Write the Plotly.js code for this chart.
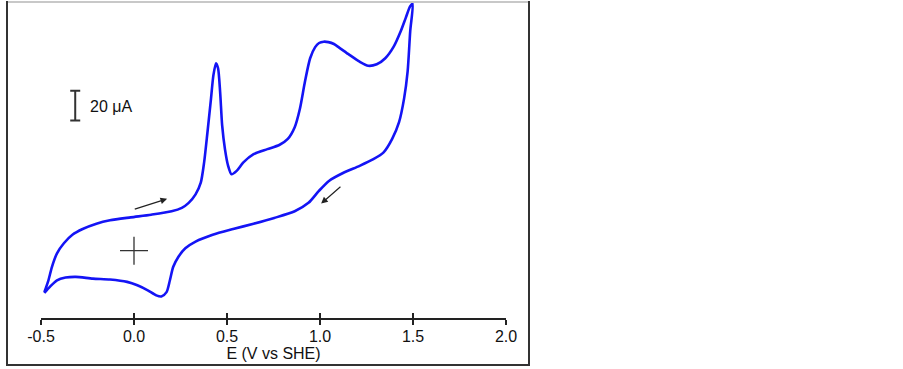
<!DOCTYPE html>
<html>
<head>
<meta charset="utf-8">
<script src="https://cdn.plot.ly/plotly-3.0.1.min.js"></script>
<style>html,body{margin:0;padding:0;background:#fff;}#chart{width:903px;height:369px;}</style>
</head>
<body>
<div id="chart"></div>
<script>
// Forward (anodic) scan: potential (V vs SHE) and current (µA, relative)
var forwardE = [-0.482,-0.460,-0.441,-0.414,-0.377,-0.331,-0.276,-0.202,-0.129,-0.018,0.092,0.202,0.257,0.294,0.331,0.359,0.377,0.395,0.414,0.427,0.441,0.452,0.463,0.474,0.489,0.506,0.524,0.552,0.588,0.643,0.717,0.781,0.827,0.864,0.892,0.919,0.947,0.974,0.995,1.020,1.045,1.075,1.103,1.158,1.213,1.259,1.305,1.351,1.397,1.434,1.461,1.485,1.498];
var forwardI = [-28.0,-20.0,-10.9,-1.8,5.0,10.7,14.6,18.2,20.5,22.5,24.3,26.6,28.9,32.3,38.0,45.9,59.6,80.0,102.7,118.6,126.6,123.2,107.3,84.6,68.6,57.3,51.6,53.9,59.6,65.2,68.6,71.4,75.5,83.4,95.9,114.1,130.0,137.5,140.3,141.2,140.9,139.6,137.2,132.3,127.7,124.9,125.9,130.0,138.0,148.2,157.3,165.2,166.8];
// Reverse (cathodic) scan
var reverseE = [1.498,1.485,1.471,1.452,1.425,1.388,1.342,1.287,1.213,1.121,1.048,0.993,0.938,0.864,0.754,0.643,0.533,0.423,0.331,0.276,0.239,0.211,0.193,0.175,0.147,0.120,0.074,0.018,-0.037,-0.129,-0.221,-0.313,-0.368,-0.414,-0.450,-0.482];
var reverseI = [166.8,148.2,120.9,102.7,86.8,75.5,66.4,61.8,57.3,52.3,47.1,40.2,32.3,26.6,22.1,18.2,14.6,10.7,6.1,1.6,-4.1,-10.9,-20.0,-28.0,-30.9,-30.2,-26.8,-23.4,-21.1,-19.5,-18.9,-17.7,-18.2,-20.0,-24.1,-28.6];
var tickVals = [-0.5,0.0,0.5,1.0,1.5,2.0];
var tickText = ['-0.5','0.0','0.5','1.0','1.5','2.0'];
// Scale bar (20 µA) and origin cross
var scaleBarE = [-0.316], scaleBarI = [98.0], scaleBarHalf = [10];
var scaleLabel = '20 μA', scaleLabelE = -0.250, scaleLabelI = 97.7;
var originE = [0.0], originI = [0.0];
// Scan direction arrows: [headE, headI, tailE, tailI]
var arrowFwd = [0.178, 35.0, -0.004, 27.7];
var arrowRev = [1.006, 31.8, 1.118, 44.1];

var cvE = forwardE.concat(reverseE.slice(1));
var cvI = forwardI.concat(reverseI.slice(1));

var traces = [
  {x: cvE, y: cvI, type: 'scatter', mode: 'lines', line: {color: 'rgb(20,20,245)', width: 2.6, shape: 'spline', smoothing: 0.7}, hoverinfo: 'skip'},
  {x: originE, y: originI, type: 'scatter', mode: 'markers', marker: {symbol: 'cross-thin-open', size: 20, color: '#333', line: {color: '#333', width: 1.3}}, hoverinfo: 'skip'},
  {x: scaleBarE, y: scaleBarI, xaxis: 'x2', type: 'scatter', mode: 'markers', marker: {size: 1, color: 'rgba(0,0,0,0)'},
   error_y: {type: 'data', array: scaleBarHalf, visible: true, color: '#333', thickness: 2, width: 5}, hoverinfo: 'skip'}
];

function arrow(a) {
  return {x: a[0], y: a[1], ax: a[2], ay: a[3], xref: 'x', yref: 'y', axref: 'x', ayref: 'y', text: '', showarrow: true,
    arrowhead: 2, arrowsize: 1.1, arrowwidth: 1.2, arrowcolor: '#222'};
}

var L = 41, R = 506, T = 2, B = 318, W = 903, H = 369;
function px(p) { return (p - L) / (R - L); }
function py(p) { return (B - p) / (B - T); }

var layout = {
  width: W, height: H,
  margin: {l: L, r: W - R, t: T, b: H - B, pad: 0},
  paper_bgcolor: '#fff', plot_bgcolor: 'rgba(0,0,0,0)',
  showlegend: false,
  font: {family: 'Liberation Sans, Arial, sans-serif', size: 16, color: '#111'},
  xaxis: {range: [-0.5, 2.0], tickvals: tickVals, ticktext: tickText, ticks: 'outside', ticklen: 5, tickwidth: 2, tickcolor: '#222',
    ticklabelstandoff: -2,
    showline: true, linecolor: '#222', linewidth: 2, showgrid: false, zeroline: false, fixedrange: true,
    tickfont: {size: 16, color: '#111'}, title: {text: 'E (V vs SHE)', font: {size: 16, color: '#111'}, standoff: 3}},
  xaxis2: {matches: 'x', overlaying: 'x', anchor: 'y', side: 'bottom', tickvals: tickVals, ticks: 'inside', ticklen: 5, tickwidth: 2, tickcolor: '#222',
    showticklabels: false, showline: false, showgrid: false, zeroline: false, fixedrange: true},
  yaxis: {range: [-45.5, 168], visible: false, showgrid: false, zeroline: false, fixedrange: true},
  annotations: [
    arrow(arrowFwd), arrow(arrowRev),
    {x: scaleLabelE, y: scaleLabelI, xref: 'x', yref: 'y', text: scaleLabel, showarrow: false, xanchor: 'left', yanchor: 'middle', font: {size: 16, color: '#111'}}
  ],
  shapes: [
    {type: 'line', xref: 'paper', yref: 'paper', x0: px(8), x1: px(529), y0: py(2), y1: py(2), line: {color: '#c8c8c8', width: 2}},
    {type: 'line', xref: 'paper', yref: 'paper', x0: px(7), x1: px(7), y0: py(1), y1: py(366), line: {color: '#333', width: 2}},
    {type: 'line', xref: 'paper', yref: 'paper', x0: px(529), x1: px(529), y0: py(1), y1: py(366), line: {color: '#333', width: 2}},
    {type: 'line', xref: 'paper', yref: 'paper', x0: px(7), x1: px(530), y0: py(365), y1: py(365), line: {color: '#333', width: 2}}
  ]
};

Plotly.newPlot('chart', traces, layout, {staticPlot: true, displayModeBar: false});
</script>
</body>
</html>
